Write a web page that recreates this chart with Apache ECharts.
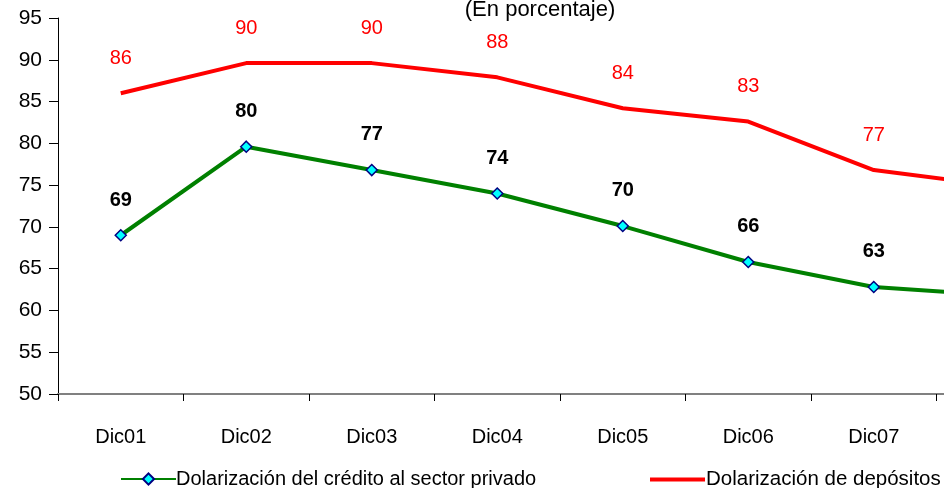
<!DOCTYPE html>
<html>
<head>
<meta charset="utf-8">
<script src="https://cdn.jsdelivr.net/npm/echarts@6/dist/echarts.min.js"></script>
<style>
  html, body { margin: 0; padding: 0; background: #fff; }
  #chart { width: 944px; height: 488px; }
</style>
</head>
<body>
<div id="chart"></div>
<script>
// Dollarization of the financial system, in percent
const categories = ['Dic01', 'Dic02', 'Dic03', 'Dic04', 'Dic05', 'Dic06', 'Dic07', 'Jun08'];
const creditoPrivado = [69.0, 79.6, 76.8, 74.0, 70.1, 65.8, 62.8, 61.8];
const depositos = [86.0, 89.6, 89.6, 87.9, 84.2, 82.6, 76.8, 74.9];
const yTicks = [50, 55, 60, 65, 70, 75, 80, 85, 90, 95];

const FONT = '"Liberation Sans", Arial, sans-serif';
const nameCredito = 'Dolarización del crédito al sector privado';
const nameDepositos = 'Dolarización de depósitos';

const chart = echarts.init(document.getElementById('chart'), null, { renderer: 'canvas' });

chart.setOption({
  animation: false,
  backgroundColor: '#ffffff',
  textStyle: { fontFamily: FONT },
  title: {
    text: '(En porcentaje)',
    left: 535,
    textAlign: 'center',
    top: -6,
    textStyle: { fontFamily: FONT, fontSize: 22, fontWeight: 'normal', color: '#000' }
  },
  legend: [
    {
      data: [nameCredito],
      left: 115,
      top: 464,
      itemWidth: 55,
      itemHeight: 14,
      itemGap: 4,
      textStyle: { fontFamily: FONT, fontSize: 20, color: '#000', padding: [0, 0, 0, -5] }
    },
    {
      data: [nameDepositos],
      left: 645,
      top: 464,
      icon: 'rect',
      itemWidth: 55,
      itemHeight: 4,
      itemStyle: { color: '#ff0000' },
      textStyle: { fontFamily: FONT, fontSize: 20.5, color: '#000', padding: [0, 0, 0, -4] }
    }
  ],
  grid: {
    left: 58,
    top: 18,
    width: 1004,
    height: 376,
    containLabel: false,
    outerBoundsMode: 'none'
  },
  xAxis: {
    type: 'category',
    data: categories,
    boundaryGap: true,
    axisLine: { show: true, lineStyle: { color: '#808080', width: 2 } },
    axisTick: { show: true, length: 7, lineStyle: { color: '#000', width: 1 } },
    axisLabel: { margin: 33, fontFamily: FONT, fontSize: 20, color: '#000' },
    splitLine: { show: false }
  },
  yAxis: {
    type: 'value',
    min: 50,
    max: 95,
    interval: 5,
    axisLine: { show: true, lineStyle: { color: '#000', width: 1 } },
    axisTick: { show: true, inside: false, length: 9, lineStyle: { color: '#000', width: 1 } },
    axisLabel: {
      margin: 16,
      fontFamily: FONT,
      fontSize: 21,
      color: '#000',
      formatter: v => (yTicks.indexOf(v) >= 0 ? String(v) : '')
    },
    splitLine: { show: false }
  },
  series: [
    {
      name: nameCredito,
      type: 'line',
      data: creditoPrivado,
      symbol: 'diamond',
      symbolSize: 11,
      lineStyle: { color: '#008000', width: 4 },
      itemStyle: { color: '#00ffff', borderColor: '#000080', borderWidth: 1.5 },
      label: {
        show: true,
        position: 'top',
        distance: 19,
        fontFamily: FONT,
        fontSize: 20,
        fontWeight: 'bold',
        color: '#000',
        formatter: p => Math.round(p.value)
      },
      z: 3
    },
    {
      name: nameDepositos,
      type: 'line',
      data: depositos,
      symbol: 'circle',
      symbolSize: 0,
      showSymbol: true,
      lineStyle: { color: '#ff0000', width: 4 },
      itemStyle: { color: '#ff0000' },
      label: {
        show: true,
        position: 'top',
        distance: 25,
        fontFamily: FONT,
        fontSize: 20,
        color: '#ff0000',
        formatter: p => Math.round(p.value)
      },
      z: 2
    }
  ]
});
</script>
</body>
</html>
